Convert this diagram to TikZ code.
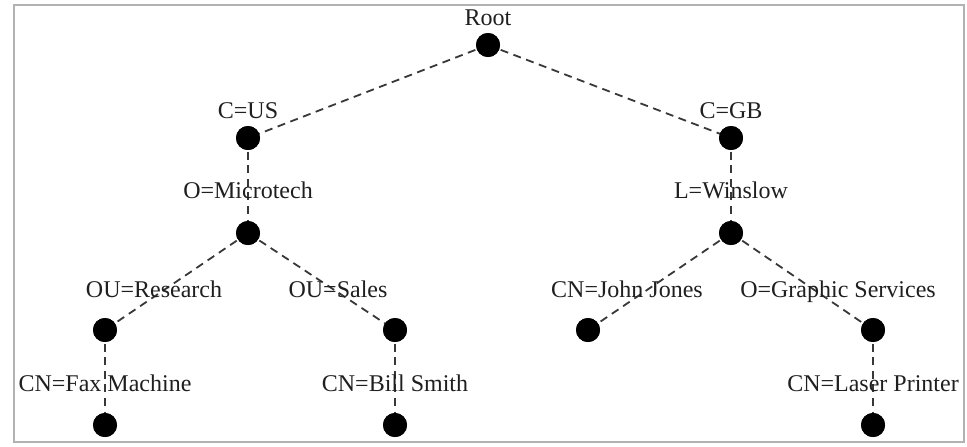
\documentclass[tikz,border=0pt]{standalone}
\usepackage{fontspec}
\setmainfont{Liberation Serif}
\begin{document}
\begin{tikzpicture}[x=0.5pt,y=-0.5pt,
  dot/.style={circle,fill=black,inner sep=0pt,minimum size=12pt},
  lbl/.style={inner sep=0pt,anchor=base,text=black!88,font=\fontsize{12}{14}\selectfont},
  link/.style={draw=black!78,line width=0.9pt,dash pattern=on 4pt off 2.8pt}]
  \useasboundingbox (0,0) rectangle (967,446);
  \draw[black!30,line width=1pt] (14,5) rectangle (964,442);

  % entries of the directory tree
  \node[dot] (root) at (488,45) {};
  \node[dot] (us) at (248,138) {};
  \node[dot] (gb) at (731,138) {};
  \node[dot] (mt) at (248,233) {};
  \node[dot] (win) at (731,233) {};
  \node[dot] (res) at (105,330) {};
  \node[dot] (sal) at (395,330) {};
  \node[dot] (jj) at (588,330) {};
  \node[dot] (gs) at (873,330) {};
  \node[dot] (fax) at (105,425) {};
  \node[dot] (bs) at (395,425) {};
  \node[dot] (lp) at (873,425) {};

  % links between entries
  \draw[link] (root.center) -- (us.center);
  \draw[link] (root.center) -- (gb.center);
  \draw[link] (us.center) -- (mt.center);
  \draw[link] (gb.center) -- (win.center);
  \draw[link] (mt.center) -- (res.center);
  \draw[link] (mt.center) -- (sal.center);
  \draw[link] (win.center) -- (jj.center);
  \draw[link] (win.center) -- (gs.center);
  \draw[link] (res.center) -- (fax.center);
  \draw[link] (sal.center) -- (bs.center);
  \draw[link] (gs.center) -- (lp.center);

  % redraw the dots over the link ends
  \foreach \n in {root,us,gb,mt,win,res,sal,jj,gs,fax,bs,lp}
    \fill (\n) circle (6pt);

  % names of the entries
  \node[lbl] (troot) at (488,25) {Root};
  \node[lbl] (tus) at (248,118) {C=US};
  \node[lbl] (tgb) at (731,118) {C=GB};
  \node[lbl] (tmt) at (248,198) {O=Microtech};
  \node[lbl] (twin) at (731,198) {L=Winslow};
  \node[lbl] (tres) at (154,297) {OU=Research};
  \node[lbl] (tsal) at (338,297) {OU=Sales};
  \node[lbl] (tjj) at (627,297) {CN=John Jones};
  \node[lbl] (tgs) at (838,297) {O=Graphic Services};
  \node[lbl] (tfax) at (105,391) {CN=Fax Machine};
  \node[lbl] (tbs) at (395,391) {CN=Bill Smith};
  \node[lbl] (tlp) at (873,391) {CN=Laser Printer};
\end{tikzpicture}
\end{document}
